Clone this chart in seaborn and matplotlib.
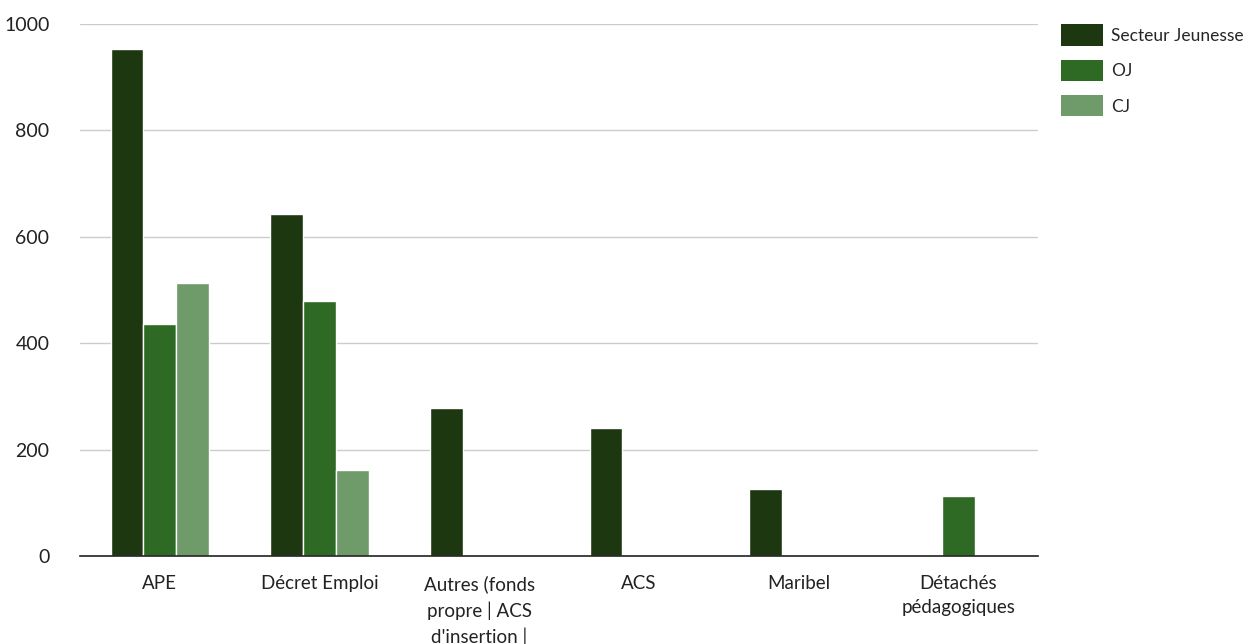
import numpy as np
import pandas as pd
import matplotlib
matplotlib.use("Agg")
import matplotlib.pyplot as plt
import seaborn as sns

categories = ["APE", "Décret Emploi", "Autres (fonds\npropre | ACS\nd'insertion |",
              "ACS", "Maribel", "Détachés\npédagogiques"]
series = ["Secteur Jeunesse", "OJ", "CJ"]
secteur = [953, 643, 278, 241, 126, np.nan]
oj = [436, 479, np.nan, np.nan, np.nan, 113]
cj = [513, 162, np.nan, np.nan, np.nan, np.nan]
colors = ["#1d3810", "#2f6a24", "#6f9a6a"]
yticks = [0, 200, 400, 600, 800, 1000]

rows = []
for s, vals in zip(series, [secteur, oj, cj]):
    for c, v in zip(categories, vals):
        rows.append({"cat": c, "serie": s, "val": v})
df = pd.DataFrame(rows)

sns.set_theme(style="white")
plt.rcParams["font.family"] = ["Lato", "DejaVu Sans"]

fig = plt.figure(figsize=(12.56, 6.44), dpi=100)
ax = fig.add_axes([80/1256, 1-556/644, (1038-80)/1256, (556-24)/644])

sns.barplot(data=df, x="cat", y="val", hue="serie", order=categories,
            hue_order=series, palette=colors, saturation=1, width=0.615,
            errorbar=None, edgecolor="white", linewidth=1.0, ax=ax, zorder=3)

ax.set_xlim(-0.5, 5.5)
ax.set_ylim(0, 1000)
ax.set_yticks(yticks)
ax.set_yticklabels([str(t) for t in yticks], fontsize=14, color="#222222")
ax.tick_params(axis="x", labelsize=13.5, colors="#222222", length=0, pad=14)
ax.tick_params(axis="y", length=0, pad=22)
for lab in ax.get_xticklabels():
    lab.set_linespacing(1.5)
ax.set_xlabel("")
ax.set_ylabel("")
ax.grid(axis="y", color="#cccccc", linewidth=1, zorder=0)
for sp in ["top", "right", "left"]:
    ax.spines[sp].set_visible(False)
ax.spines["bottom"].set_color("#222222")
ax.spines["bottom"].set_linewidth(1.2)
ax.spines["bottom"].set_zorder(4)

ax.get_legend().remove()
handles = [plt.Rectangle((0, 0), 1, 1, facecolor=c, edgecolor="none") for c in colors]
fig.legend(handles, series, loc="upper left", bbox_to_anchor=(1058/1256, 1-21/644),
           frameon=False, fontsize=12.5, handlelength=2.4, handleheight=1.5,
           handletextpad=0.45, labelspacing=0.82, borderaxespad=0, borderpad=0.2)

fig.savefig("out.png", dpi=100)
